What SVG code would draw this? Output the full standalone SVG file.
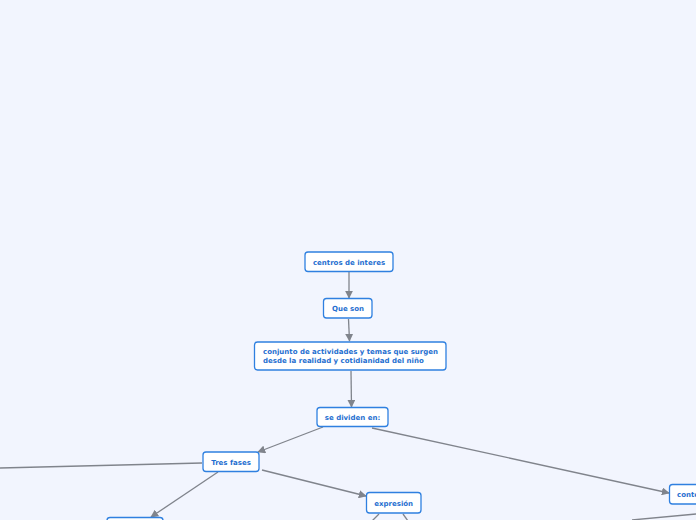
<svg xmlns="http://www.w3.org/2000/svg" width="696" height="520" viewBox="0 0 696 520">
<defs>
<marker id="ah" viewBox="0 0 10 10" refX="9" refY="5" markerWidth="8" markerHeight="8" markerUnits="userSpaceOnUse" orient="auto">
<path d="M0,0 L10,5 L0,10 z" fill="#80848c"/>
</marker>
<style>
.bg{fill:#f2f5fe}
.box{fill:#fff;stroke:#2f80e0;stroke-width:1.3}
.sh{fill:#3b6aa8}
.t{font-family:"DejaVu Sans",Verdana,sans-serif;font-weight:bold;font-size:7px;fill:#1f6fd0}
.c{fill:none;stroke:#80848c;stroke-width:1.3}
.ca{fill:none;stroke:#80848c;stroke-width:1.3;marker-end:url(#ah)}
</style>
</defs>
<rect class="bg" width="696" height="520"/>
<g id="connectors">
<line class="ca" x1="349" y1="272" x2="349" y2="298"/>
<line class="ca" x1="348.5" y1="319" x2="349.5" y2="341"/>
<line class="ca" x1="351" y1="371" x2="351.5" y2="407"/>
<line class="ca" x1="323" y1="427" x2="258" y2="452"/>
<line class="ca" x1="372" y1="428" x2="669" y2="493"/>
<line class="c" x1="202" y1="463" x2="0" y2="468"/>
<line class="ca" x1="218" y1="472" x2="151" y2="517"/>
<line class="ca" x1="262" y1="470" x2="366" y2="496"/>
<line class="c" x1="379" y1="514" x2="372" y2="521"/>
<line class="c" x1="403" y1="514" x2="408" y2="521"/>
<line class="c" x1="632" y1="520" x2="696" y2="514"/>
</g>
<g id="n1">
<rect class="box" x="305" y="252" width="88" height="19.5" rx="3"/>
<text class="t" x="349" y="264.5" text-anchor="middle">centros de interes</text>
</g>
<g id="n2">
<rect class="box" x="323.5" y="298.5" width="48.5" height="19.5" rx="3"/>
<text class="t" x="348" y="311" text-anchor="middle">Que son</text>
</g>
<g id="n3">
<rect class="box" x="254.5" y="342" width="191.5" height="28" rx="3"/>
<text class="t" x="263" y="353.5">conjunto de actividades y temas que surgen</text>
<text class="t" x="263" y="362.5">desde la realidad y cotidianidad del niño</text>
</g>
<g id="n4">
<rect class="box" x="317" y="407.5" width="71" height="19" rx="3"/>
<text class="t" x="352.5" y="419.5" text-anchor="middle">se dividen en:</text>
</g>
<g id="n5">
<rect class="box" x="203" y="452" width="56" height="19.5" rx="3"/>
<text class="t" x="231" y="464.5" text-anchor="middle">Tres fases</text>
</g>
<g id="n6">
<rect class="box" x="366.5" y="492.5" width="54.5" height="20.5" rx="3"/>
<text class="t" x="393.7" y="505.5" text-anchor="middle">expresión</text>
</g>
<g id="n7">
<rect class="box" x="669.5" y="484.5" width="40" height="19.5" rx="3"/>
<text class="t" x="677" y="497">contenido</text>
</g>
<g id="n8">
<rect class="box" x="107" y="517.5" width="56" height="19.5" rx="3"/>
</g>
</svg>
